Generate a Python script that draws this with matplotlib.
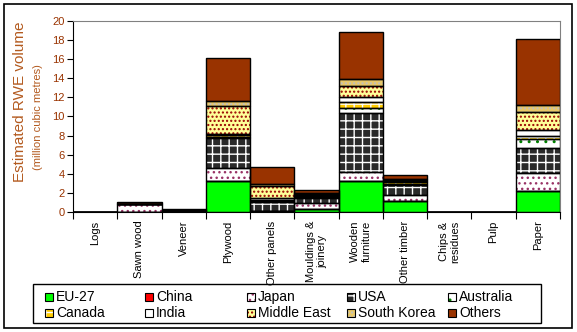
import numpy as np
import matplotlib.pyplot as plt
from matplotlib.patches import Rectangle

plt.rcParams['font.family'] = ['Liberation Sans', 'DejaVu Sans']
plt.rcParams['hatch.linewidth'] = 1.0

products = ['Logs', 'Sawn wood', 'Veneer', 'Plywood', 'Other panels',
            'Mouldings &\njoinery', 'Wooden\nfurniture', 'Other timber',
            'Chips &\nresidues', 'Pulp', 'Paper']

# million m3 RWE by supplier
eu27        = [0.0, 0.05, 0.03, 3.2, 0.1, 0.35, 3.2, 1.1, 0.01, 0.01, 2.25]
china       = [0.0, 0.0, 0.0, 0.0, 0.0, 0.0, 0.0, 0.0, 0.0, 0.0, 0.0]
japan       = [0.0, 0.75, 0.03, 1.4, 0.05, 0.55, 0.95, 0.65, 0.01, 0.01, 1.8]
usa         = [0.0, 0.05, 0.05, 3.2, 0.85, 0.6, 6.2, 1.1, 0.02, 0.02, 2.7]
australia   = [0.0, 0.0, 0.01, 0.1, 0.1, 0.1, 0.5, 0.1, 0.0, 0.0, 0.85]
canada      = [0.0, 0.0, 0.01, 0.2, 0.2, 0.1, 0.7, 0.15, 0.0, 0.0, 0.35]
india       = [0.0, 0.0, 0.01, 0.1, 0.2, 0.1, 0.45, 0.1, 0.0, 0.0, 0.65]
middle_east = [0.0, 0.0, 0.01, 2.9, 1.2, 0.1, 1.2, 0.15, 0.0, 0.0, 1.85]
south_korea = [0.0, 0.0, 0.01, 0.55, 0.2, 0.1, 0.7, 0.1, 0.0, 0.0, 0.72]
others      = [0.0, 0.15, 0.2, 4.45, 1.8, 0.3, 4.9, 0.4, 0.01, 0.01, 6.9]

# name, values, face colour, hatch, hatch colour
series = [
    ('EU-27', eu27, '#00FF00', None, None),
    ('China', china, '#FF0000', None, None),
    ('Japan', japan, 'white', '...', '#993366'),
    ('USA', usa, '#2A2A2A', '++', 'white'),
    ('Australia', australia, 'white', '..', '#008000'),
    ('Canada', canada, '#FFCC00', '++', 'white'),
    ('India', india, 'white', None, None),
    ('Middle East', middle_east, '#FFFF99', '....', '#990000'),
    ('South Korea', south_korea, '#E8C868', '....', '#C0C0C0'),
    ('Others', others, '#993300', None, None),
]

W, H = 577, 332
fig = plt.figure(figsize=(W / 100, H / 100), dpi=100)
ax = fig.add_axes([73 / W, 1 - 212 / H, 487 / W, 191 / H])

x = np.arange(len(products))
bottom = np.zeros(len(products))
for name, vals, fc, hatch, hc in series:
    vals = np.array(vals)
    if hatch:
        ax.bar(x, vals, 1.0, bottom=bottom, color=fc, hatch=hatch,
               edgecolor=hc, linewidth=0, zorder=2)
    else:
        ax.bar(x, vals, 1.0, bottom=bottom, color=fc, linewidth=0, zorder=2)
    ax.bar(x, vals, 1.0, bottom=bottom, fill=False, edgecolor='black',
           linewidth=1.0, zorder=3)
    bottom += vals

ax.set_xlim(-0.5, len(products) - 0.5)
ax.set_ylim(0, 20)
ax.set_yticks(range(0, 21, 2))
ax.tick_params(axis='y', direction='out', length=4, labelsize=8,
               labelcolor='#993300', pad=2)
ax.set_xticks(np.arange(-0.5, len(products), 1.0))
ax.set_xticklabels([])
ax.tick_params(axis='x', direction='out', length=5)
for i, label in enumerate(products):
    ax.text(i, -0.9, label, rotation=90, ha='center', va='top',
            multialignment='center', fontsize=8)

for side in ['top', 'right']:
    ax.spines[side].set_color('#808080')
for side in ['left', 'bottom']:
    ax.spines[side].set_color('black')

fig.text(20 / W, 1 - 102 / H, 'Estimated RWE volume', rotation=90,
         ha='center', va='center', fontsize=11, color='#B35A1F')
fig.text(38 / W, 1 - 117 / H, '(million cubic metres)', rotation=90,
         ha='center', va='center', fontsize=8, color='#B35A1F')

# legend box, 5 entries per row
fig.add_artist(Rectangle((33 / W, 1 - 323 / H), 508 / W, 39 / H,
                         transform=fig.transFigure, fill=False,
                         edgecolor='black', linewidth=1.0))
col_x = [45, 145, 247, 347, 448]
row_y = [297, 313]
sq = 8
for k, (name, vals, fc, hatch, hc) in enumerate(series):
    cx = col_x[k % 5]
    cy = row_y[k // 5]
    fig.add_artist(Rectangle((cx / W, 1 - (cy + sq / 2) / H), sq / W, sq / H,
                             transform=fig.transFigure, facecolor=fc,
                             hatch=hatch, edgecolor=hc if hatch else 'black',
                             linewidth=0))
    fig.add_artist(Rectangle((cx / W, 1 - (cy + sq / 2) / H), sq / W, sq / H,
                             transform=fig.transFigure, fill=False,
                             edgecolor='black', linewidth=0.8))
    fig.text((cx + sq + 3) / W, 1 - cy / H, name, ha='left', va='center',
             fontsize=10)

fig.add_artist(Rectangle((4 / W, 1 - 328 / H), 568 / W, 324 / H,
                         transform=fig.transFigure, fill=False,
                         edgecolor='black', linewidth=1.2))

fig.savefig('out.png', dpi=100)
